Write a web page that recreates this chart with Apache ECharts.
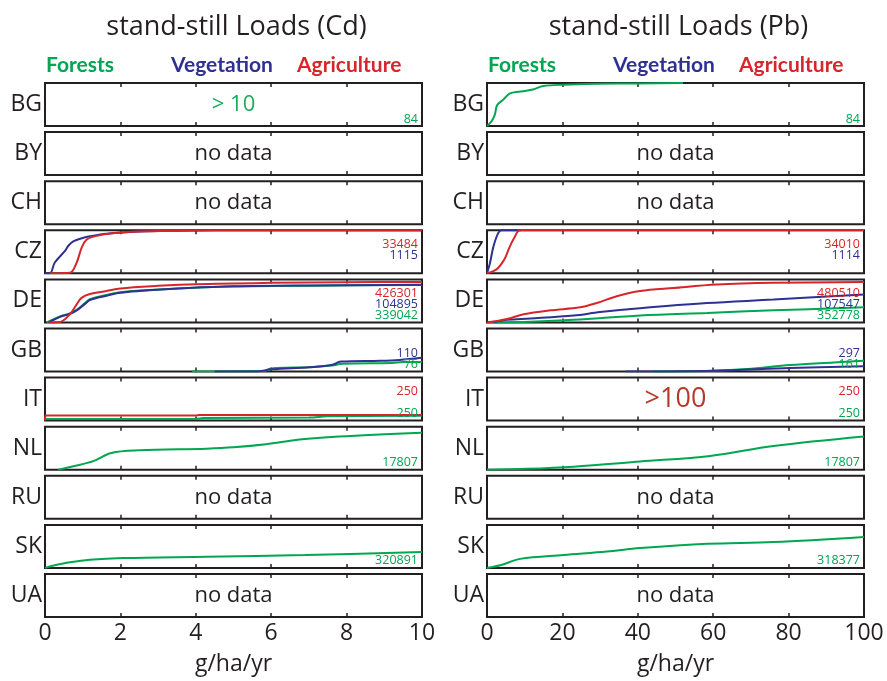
<!DOCTYPE html>
<html>
<head>
<meta charset="utf-8">
<script src="https://cdn.jsdelivr.net/npm/echarts@6/dist/echarts.min.js"></script>
<style>html,body{margin:0;padding:0;background:#fff}#c{width:887px;height:681px}</style>
</head>
<body>
<div id="c"></div>
<script>
// ---------------- data ----------------
const countries = ['BG','BY','CH','CZ','DE','GB','IT','NL','RU','SK','UA'];
const categories = ['Forests','Vegetation','Agriculture'];
const cdTicks = [0,2,4,6,8,10];
const pbTicks = [0,20,40,60,80,100];
const axisTitle = 'g/ha/yr';
const titles = ['stand-still Loads (Cd)','stand-still Loads (Pb)'];

// counts shown in each panel (index follows countries)
const cdForestCounts = [84,null,null,null,339042,76,250,17807,null,320891,null];
const cdVegCounts    = [null,null,null,1115,104895,110,null,null,null,null,null];
const cdAgriCounts   = [null,null,null,33484,426301,null,250,null,null,null,null];
const pbForestCounts = [84,null,null,null,352778,161,250,17807,null,318377,null];
const pbVegCounts    = [null,null,null,1114,107547,297,null,null,null,null,null];
const pbAgriCounts   = [null,null,null,34010,480510,null,250,null,null,null,null];

// notes in panels
const cdNotes = ['> 10','no data','no data',null,null,null,null,null,'no data',null,'no data'];
const pbNotes = [null,'no data','no data',null,null,null,'>100',null,'no data',null,'no data'];

// cumulative curves [x, fraction]
const cdCZ_Veg  = [[0,0],[0.13,0],[0.26,0.25],[0.53,0.52],[0.62,0.64],[0.75,0.74],[1.0,0.82],[1.19,0.86],[1.63,0.92],[2.5,0.97],[3.5,0.99],[4.5,1],[10,1]];
const cdCZ_Agri = [[0.13,0],[0.66,0.01],[0.84,0.25],[0.97,0.59],[1.1,0.78],[1.37,0.87],[1.8,0.93],[2.5,0.97],[3.4,0.99],[4.5,1],[10,1]];
const cdDE_For  = [[0.05,0],[0.4,0.14],[0.66,0.21],[0.84,0.29],[1.06,0.45],[1.19,0.54],[1.63,0.64],[2,0.7],[2.5,0.74],[3.8,0.8],[5,0.835],[7,0.855],[10,0.87]];
const cdDE_Veg  = [[0.1,0],[0.4,0.13],[0.66,0.2],[0.84,0.28],[1.06,0.43],[1.19,0.52],[1.63,0.62],[2,0.69],[2.5,0.73],[3.8,0.8],[5,0.84],[7,0.86],[10,0.875]];
const cdDE_Agri = [[0.1,0],[0.4,0.01],[0.66,0.19],[0.84,0.42],[0.97,0.57],[1.19,0.66],[1.63,0.73],[2,0.79],[3,0.85],[4,0.89],[6,0.92],[8,0.935],[10,0.94]];
const cdGB_For  = [[3.9,0],[5.8,0.01],[6.0,0.07],[7.0,0.1],[7.6,0.14],[7.9,0.18],[9.2,0.2],[9.5,0.22],[10,0.22]];
const cdGB_Veg  = [[4.5,0],[5.6,0],[6.0,0.05],[7.0,0.1],[7.6,0.15],[7.85,0.23],[8.9,0.25],[9.4,0.27],[10,0.32]];
const cdIT_For  = [[0,0.04],[4,0.04],[4.2,0.06],[7,0.07],[7.5,0.1],[10,0.11]];
const cdIT_Agri = [[0,0],[0.02,0.12],[4.0,0.12],[4.1,0.13],[10,0.13]];
const cdNL_For  = [[0.35,0],[0.75,0.08],[1.28,0.2],[1.76,0.39],[2.5,0.45],[4.28,0.49],[5.0,0.52],[5.86,0.59],[6.75,0.7],[7.8,0.77],[10,0.86]];
const cdSK_For  = [[0,0],[0.26,0.06],[0.66,0.13],[1.19,0.19],[2.07,0.23],[4.28,0.26],[6.9,0.3],[10,0.37]];

const pbBG_For  = [[0,0],[1.2,0.11],[2.1,0.27],[2.7,0.49],[4.3,0.61],[6.1,0.76],[9.6,0.81],[12.2,0.85],[14.9,0.93],[20.2,0.96],[29,0.98],[40,0.99],[52,1]];
const pbCZ_Veg  = [[0,0],[0.3,0.09],[0.8,0.24],[1.7,0.62],[3,0.94],[3.9,1],[9,1]];
const pbCZ_Agri = [[0,0],[1.7,0.05],[3,0.13],[4.6,0.32],[5.9,0.59],[7.2,0.82],[8.8,1],[100,1]];
const pbDE_For  = [[0,0],[9.7,0.01],[23,0.06],[40.6,0.16],[58.4,0.22],[76,0.28],[100,0.35]];
const pbDE_Veg  = [[1.8,0],[5.3,0.06],[11.5,0.09],[23,0.16],[30,0.24],[40.6,0.33],[58.4,0.45],[76,0.53],[100,0.65]];
const pbDE_Agri = [[0,0],[5.3,0.08],[9.7,0.19],[16.8,0.28],[24.7,0.35],[29.1,0.45],[34.4,0.61],[40.6,0.73],[49.5,0.8],[61,0.88],[76,0.92],[100,0.94]];
const pbGB_For  = [[44,0],[60,0.02],[69,0.06],[80.4,0.15],[92,0.21],[100,0.25]];
const pbGB_Veg  = [[36.7,0],[60,0.02],[80.4,0.08],[100,0.12]];
const pbNL_For  = [[0,0],[10.5,0.02],[23,0.07],[40.6,0.19],[59.2,0.32],[76,0.55],[100,0.77]];
const pbSK_For  = [[0,0],[3.5,0.06],[8.8,0.21],[20.3,0.3],[31.8,0.38],[40.6,0.46],[58.4,0.56],[76,0.6],[100,0.72]];

// curves per panel: [Forests, Vegetation, Agriculture]
const cdCurves = {CZ:[null,cdCZ_Veg,cdCZ_Agri], DE:[cdDE_For,cdDE_Veg,cdDE_Agri], GB:[cdGB_For,cdGB_Veg,null],
  IT:[cdIT_For,null,cdIT_Agri], NL:[cdNL_For,null,null], SK:[cdSK_For,null,null]};
const pbCurves = {BG:[pbBG_For,null,null], CZ:[null,pbCZ_Veg,pbCZ_Agri], DE:[pbDE_For,pbDE_Veg,pbDE_Agri],
  GB:[pbGB_For,pbGB_Veg,null], NL:[pbNL_For,null,null], SK:[pbSK_For,null,null]};

// ---------------- layout / style ----------------
const COLORS = ['#00a651','#2e3192','#d7262b'];
const TEXT = '#231f20';
const FONT = '"Open Sans", sans-serif';
const LEFTS = [45, 487];
const W = 377, TOP0 = 83, STEP = 49.1, H = 43;

const columns = [
  {ticks: cdTicks, curves: cdCurves, notes: cdNotes, counts: [cdForestCounts, cdVegCounts, cdAgriCounts],
   noteColors: {'> 10': '#1aae5a'}},
  {ticks: pbTicks, curves: pbCurves, notes: pbNotes, counts: [pbForestCounts, pbVegCounts, pbAgriCounts],
   noteColors: {'>100': '#b53a2c'}}
];

const grids = [], xAxes = [], yAxes = [], series = [], graphics = [];
const countSlot = [36, 25, 14]; // offsets from top for Forests, Vegetation, Agriculture labels

columns.forEach((col, ci) => {
  const left = LEFTS[ci];
  const max = col.ticks[col.ticks.length - 1];
  const interval = col.ticks[1] - col.ticks[0];
  // title
  graphics.push({type:'text', x: left + W/2 + 3, y: 27, style:{text: titles[ci], font: '27px ' + FONT, fill: TEXT, align:'center', verticalAlign:'middle'}});
  // legend
  const legX = [0, 125, 251];
  categories.forEach((c, k) => {
    graphics.push({type:'text', x: left + legX[k] + 1, y: 65, style:{text: c, font: 'bold 21px Lato, sans-serif', fill: COLORS[k], align:'left', verticalAlign:'middle'}});
  });
  // axis title
  graphics.push({type:'text', x: left + W/2, y: 664, style:{text: axisTitle, font: '23px ' + FONT, fill: TEXT, align:'center', verticalAlign:'middle'}});

  countries.forEach((cty, ri) => {
    const top = TOP0 + ri * STEP;
    const gi = grids.length;
    const last = ri === countries.length - 1;
    grids.push({left: left, top: top, width: W, height: H, show: true, borderColor: TEXT, borderWidth: 2, backgroundColor: '#fff'});
    const base = {type:'value', gridIndex: gi, min: 0, max: max, interval: interval,
      axisLine:{show:false}, splitLine:{show:false},
      axisTick:{show:true, inside:true, length:4, lineStyle:{color: TEXT, width: 1.5}}};
    xAxes.push(Object.assign({}, base, {position:'bottom',
      axisLabel:{show: last, color: TEXT, fontSize: 23, fontFamily: FONT, margin: 5}}));
    const xb = xAxes.length - 1;
    xAxes.push(Object.assign({}, base, {position:'top', axisLabel:{show:false}}));
    yAxes.push({type:'value', gridIndex: gi, min: 0, max: 1, show: false});
    const yi = yAxes.length - 1;

    const cur = col.curves[cty];
    if (cur) {
      cur.forEach((d, k) => {
        if (!d) return;
        series.push({type:'line', name: categories[k], xAxisIndex: xb, yAxisIndex: yi, data: d,
          showSymbol: false, symbol:'none', smooth: 0.35,
          lineStyle:{color: COLORS[k], width: 2}, silent: true, animation: false, z: 2 + k});
      });
    }
    // country label
    graphics.push({type:'text', x: left - 3, y: top + H/2, style:{text: cty, font: '23px ' + FONT, fill: TEXT, align:'right', verticalAlign:'middle'}});
    // note
    const note = col.notes[ri];
    if (note) {
      const color = col.noteColors[note] || TEXT;
      const size = note === '>100' ? 27 : 22;
      graphics.push({type:'text', x: left + W/2, y: top + H/2, z: 10, style:{text: note, font: size + 'px ' + FONT, fill: color, align:'center', verticalAlign:'middle'}});
    }
    // counts
    col.counts.forEach((arr, k) => {
      const v = arr[ri];
      if (v === null || v === undefined) return;
      graphics.push({type:'text', x: left + W - 4, y: top + countSlot[k], z: 10, style:{text: String(v), font: '12.5px ' + FONT, fill: COLORS[k], align:'right', verticalAlign:'middle'}});
    });
  });
});

const chart = echarts.init(document.getElementById('c'), null, {renderer:'canvas'});
chart.setOption({
  animation: false,
  backgroundColor: '#fff',
  grid: grids, xAxis: xAxes, yAxis: yAxes, series: series,
  graphic: graphics
});
</script>
</body>
</html>
